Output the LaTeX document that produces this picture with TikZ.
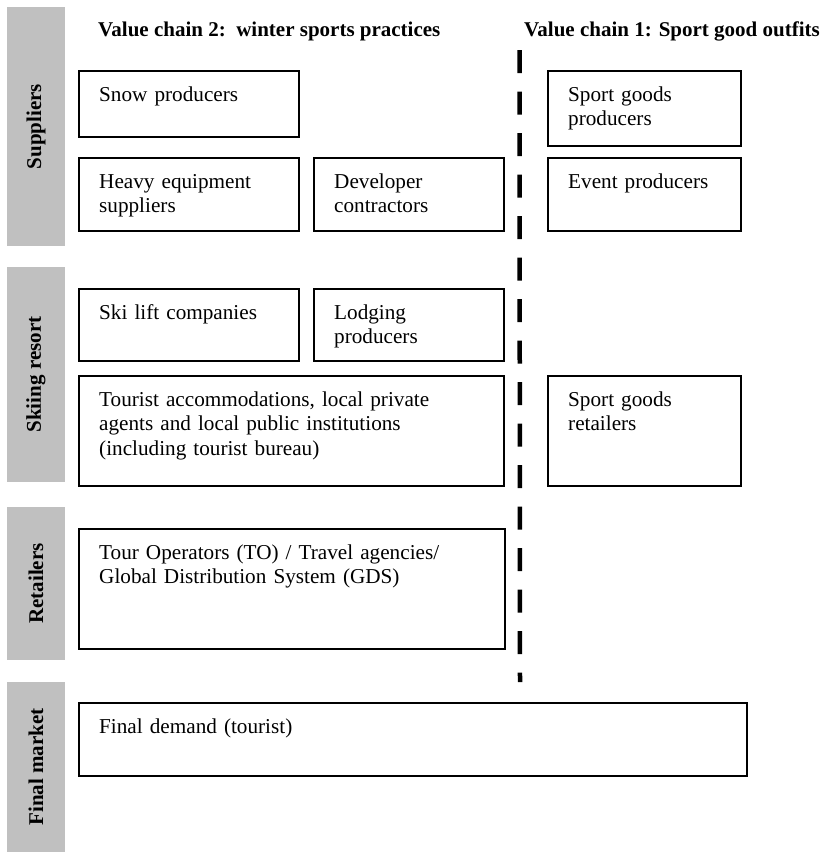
\documentclass[tikz,border=0pt]{standalone}
\usepackage{fontspec}
\setmainfont{Liberation Serif}
\definecolor{bargrey}{RGB}{192,192,192}
\tikzset{
  x=1pt, y=-1pt,
  bar/.style={fill=bargrey, draw=none},
  barlabel/.style={rotate=90, font=\bfseries\fontsize{21}{24}\selectfont, inner sep=0pt},
  title/.style={font=\bfseries\fontsize{21}{24}\selectfont, anchor=base west, inner sep=0pt},
  boxframe/.style={draw=black, line width=1.2pt},
  boxtext/.style={font=\fontsize{21.2}{24.5}\selectfont, anchor=base west, inner sep=0pt, align=left, text width=#1},
  boxtext/.default=400pt,
  divider/.style={line width=4.5pt, dash pattern=on 23pt off 18.5pt}
}
\begin{document}
\begin{tikzpicture}
\useasboundingbox (0,0) rectangle (827,852);
% grey side bars
\path[bar] (7,7) rectangle (65,246) node[midway] (gs) {};
\path[bar] (7,267) rectangle (65,482) node[midway] (gk) {};
\path[bar] (7,507) rectangle (65,660) node[midway] (gr) {};
\path[bar] (7,682) rectangle (65,852) node[midway] (gf) {};
\node[barlabel] (ls) at (36,126.5) {Suppliers};
\node[barlabel] (lk) at (36,374.5) {Skiing resort};
\node[barlabel] (lr) at (36,583.5) {Retailers};
\node[barlabel] (lf) at (36,767) {Final market};
% titles
\node[title] (t2) at (98,36) {Value chain 2:\ \ winter sports practices};
\node[title] (t1) at (524,36) {Value chain 1: Sport good outfits};
% divider
\coordinate (dtop) at (519.5,50);
\coordinate (dbot) at (520,682);
\draw[divider] (dtop) -- (dbot);
% boxes
\draw[boxframe] (79,71) rectangle (299,137) coordinate (snowse);
\coordinate (snow) at (79,71);
\draw[boxframe] (79,158) rectangle (299,231);
\coordinate (heavy) at (79,158);
\draw[boxframe] (314,158) rectangle (504,231);
\coordinate (dev) at (314,158);
\draw[boxframe] (548,71) rectangle (741,146);
\coordinate (sgp) at (548,71);
\draw[boxframe] (548,158) rectangle (741,231);
\coordinate (event) at (548,158);
\draw[boxframe] (79,289) rectangle (299,361);
\coordinate (ski) at (79,289);
\draw[boxframe] (314,289) rectangle (504,361);
\coordinate (lodg) at (314,289);
\draw[boxframe] (79,376) rectangle (504,486);
\coordinate (tour) at (79,376);
\draw[boxframe] (548,376) rectangle (741,486);
\coordinate (sgr) at (548,376);
\draw[boxframe] (79,529) rectangle (505,649);
\coordinate (to) at (79,529);
\draw[boxframe] (79,703) rectangle (747,776);
\coordinate (fin) at (79,703);
% box texts
\node[boxtext=190pt] (tsnow) at ([shift={(20,30)}]snow) {Snow producers};
\node[boxtext=190pt] (theavy) at ([shift={(20,30)}]heavy) {Heavy equipment\\suppliers};
\node[boxtext=170pt] (tdev) at ([shift={(20,30)}]dev) {Developer\\contractors};
\node[boxtext=170pt] (tsgp) at ([shift={(20,30)}]sgp) {Sport goods\\producers};
\node[boxtext=170pt] (tevent) at ([shift={(20,30)}]event) {Event producers};
\node[boxtext=190pt] (tski) at ([shift={(20,30)}]ski) {Ski lift companies};
\node[boxtext=170pt] (tlodg) at ([shift={(20,30)}]lodg) {Lodging\\producers};
\node[boxtext=400pt] (ttour) at ([shift={(20,30)}]tour) {Tourist accommodations, local private\\agents and local public institutions\\(including tourist bureau)};
\node[boxtext=170pt] (tsgr) at ([shift={(20,30)}]sgr) {Sport goods\\retailers};
\node[boxtext=400pt] (tto) at ([shift={(20,30)}]to) {Tour Operators (TO) / Travel agencies/\\Global Distribution System (GDS)};
\node[boxtext=400pt] (tfin) at ([shift={(20,30)}]fin) {Final demand (tourist)};
\end{tikzpicture}
\end{document}
